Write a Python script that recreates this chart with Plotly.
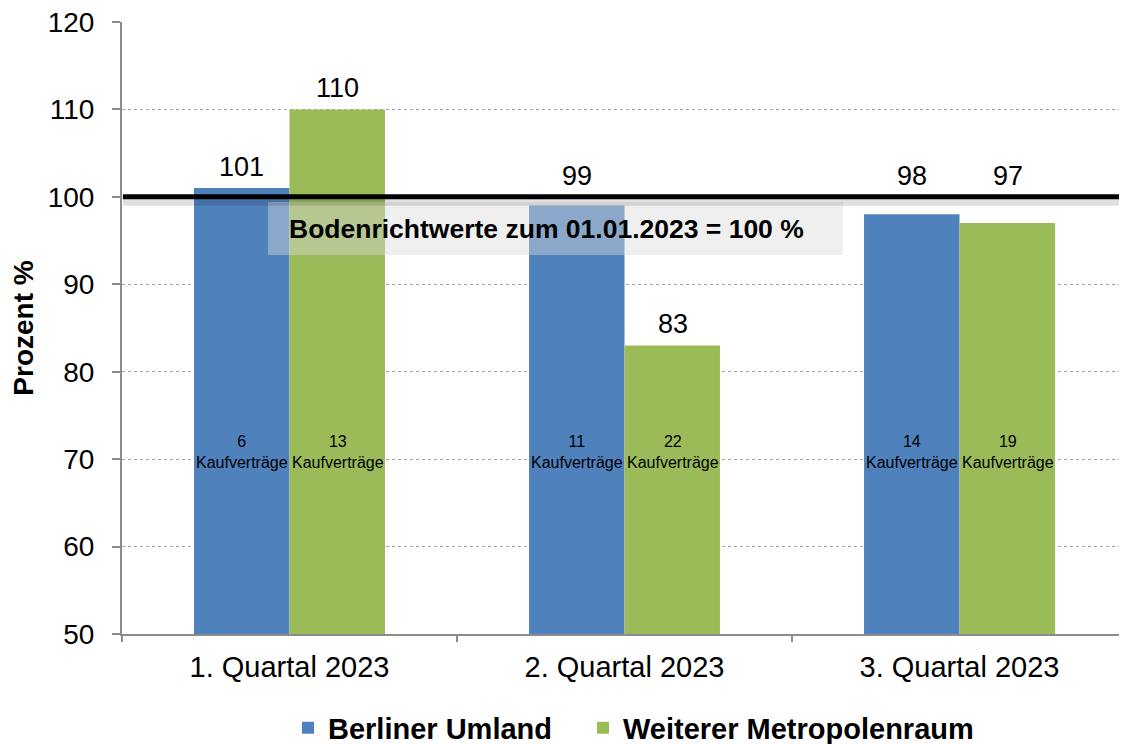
import plotly.graph_objects as go

categories = ["1. Quartal 2023", "2. Quartal 2023", "3. Quartal 2023"]
berliner_umland = [101, 99, 98]
weiterer_metropolenraum = [110, 83, 97]
kv_berliner = [6, 11, 14]
kv_weiterer = [13, 22, 19]
series_names = ["Berliner Umland", "Weiterer Metropolenraum"]
colors = ["#4F81BD", "#9BBB59"]
ref_value = 100
ref_label = "Bodenrichtwerte zum 01.01.2023 = 100 %"
y_ticks = [50, 60, 70, 80, 90, 100, 110, 120]

FONT = "Liberation Sans, Arial, sans-serif"

# page body has an 8px margin; compensate so the plot lands where intended
OFF = 8
W, H = 1127 - OFF, 744 - OFF
PL, PT, PB = 122, 22, 634  # intended plot area in page pixels
PR = 1127


def px_x(p):
    return (p - PL) / (PR - PL)


def px_y(p):
    return (PB - p) / (PB - PT)


legend_ids = ["legend", "legend2"]
legend_left_px = [288, 583]

fig = go.Figure()
for name, vals, col, lg in zip(series_names, [berliner_umland, weiterer_metropolenraum], colors, legend_ids):
    fig.add_trace(go.Bar(x=categories, y=vals, name=f"<b>{name}</b>", legend=lg,
                         marker=dict(color=col, line=dict(width=0)), hoverinfo="y"))

annotations = []
# value labels (labels just under the reference line are lifted above it)
for shift, vals in ((-48, berliner_umland), (48, weiterer_metropolenraum)):
    for c, v in zip(categories, vals):
        ly = ref_value if ref_value - 5 < v < ref_value else v
        annotations.append(dict(x=c, y=ly, xshift=shift, yshift=21, text=str(v),
                                showarrow=False, yanchor="middle",
                                font=dict(family=FONT, size=27, color="#000000")))
# Kaufverträge labels
for shift, counts in ((-48, kv_berliner), (48, kv_weiterer)):
    for c, n in zip(categories, counts):
        annotations.append(dict(x=c, y=70.8, xshift=shift, text=f"{n}<br>Kaufverträge",
                                showarrow=False, yanchor="middle",
                                font=dict(family=FONT, size=16, color="#000000")))
# reference label
annotations.append(dict(xref="paper", yref="paper", x=px_x(287), y=px_y(229),
                        xanchor="left", yanchor="middle", text=f"<b>{ref_label}</b>", showarrow=False,
                        font=dict(family=FONT, size=26.5, color="#000000")))

shapes = [
    # translucent box
    dict(type="rect", xref="paper", yref="paper", x0=px_x(268), x1=px_x(843),
         y0=px_y(255), y1=px_y(202), fillcolor="rgba(217,217,217,0.43)",
         line=dict(width=0), layer="above"),
    # shadow of line
    dict(type="rect", xref="paper", yref="y", ysizemode="pixel", yanchor=ref_value,
         x0=0.001, x1=1, y0=-2, y1=-9, fillcolor="rgba(0,0,0,0.12)", line=dict(width=0), layer="above"),
    # reference line
    dict(type="line", xref="paper", yref="y", x0=0.001, x1=1, y0=ref_value, y1=ref_value,
         line=dict(color="#000000", width=5), layer="above"),
]

legend_style = dict(orientation="h", xanchor="left", y=px_y(728), yanchor="middle",
                    font=dict(family=FONT, size=29, color="#000000"), itemwidth=30,
                    bgcolor="rgba(0,0,0,0)")

fig.update_layout(
    width=W, height=H,
    margin=dict(l=PL - OFF, r=0, t=PT - OFF, b=H - (PB - OFF), autoexpand=False),
    paper_bgcolor="white", plot_bgcolor="white",
    barmode="group", bargap=0.43, bargroupgap=0,
    font=dict(family=FONT, size=27, color="#000000"),
    showlegend=True,
    legend=dict(x=px_x(legend_left_px[0]), **legend_style),
    legend2=dict(x=px_x(legend_left_px[1]), **legend_style),
    annotations=annotations,
    shapes=shapes,
)
fig.update_xaxes(showline=True, linecolor="#8C8C8C", linewidth=2, ticks="outside", ticklen=6,
                 tickcolor="#8C8C8C", tickwidth=2, tickson="boundaries", ticklabelstandoff=6,
                 tickfont=dict(family=FONT, size=29), showgrid=False)
fig.update_yaxes(range=[50, 120], tickvals=y_ticks, showline=True, linecolor="#8C8C8C", linewidth=2,
                 ticks="outside", ticklen=8, tickcolor="#8C8C8C", tickwidth=2,
                 ticklabelstandoff=12, ticklabeloverflow="allow",
                 showgrid=True, gridcolor="#A0A0A0", griddash="dot", gridwidth=1,
                 tickfont=dict(family=FONT, size=28), zeroline=False,
                 title=dict(text="<b>Prozent %</b>", font=dict(family=FONT, size=28), standoff=8))

fig.write_html("out.html")
